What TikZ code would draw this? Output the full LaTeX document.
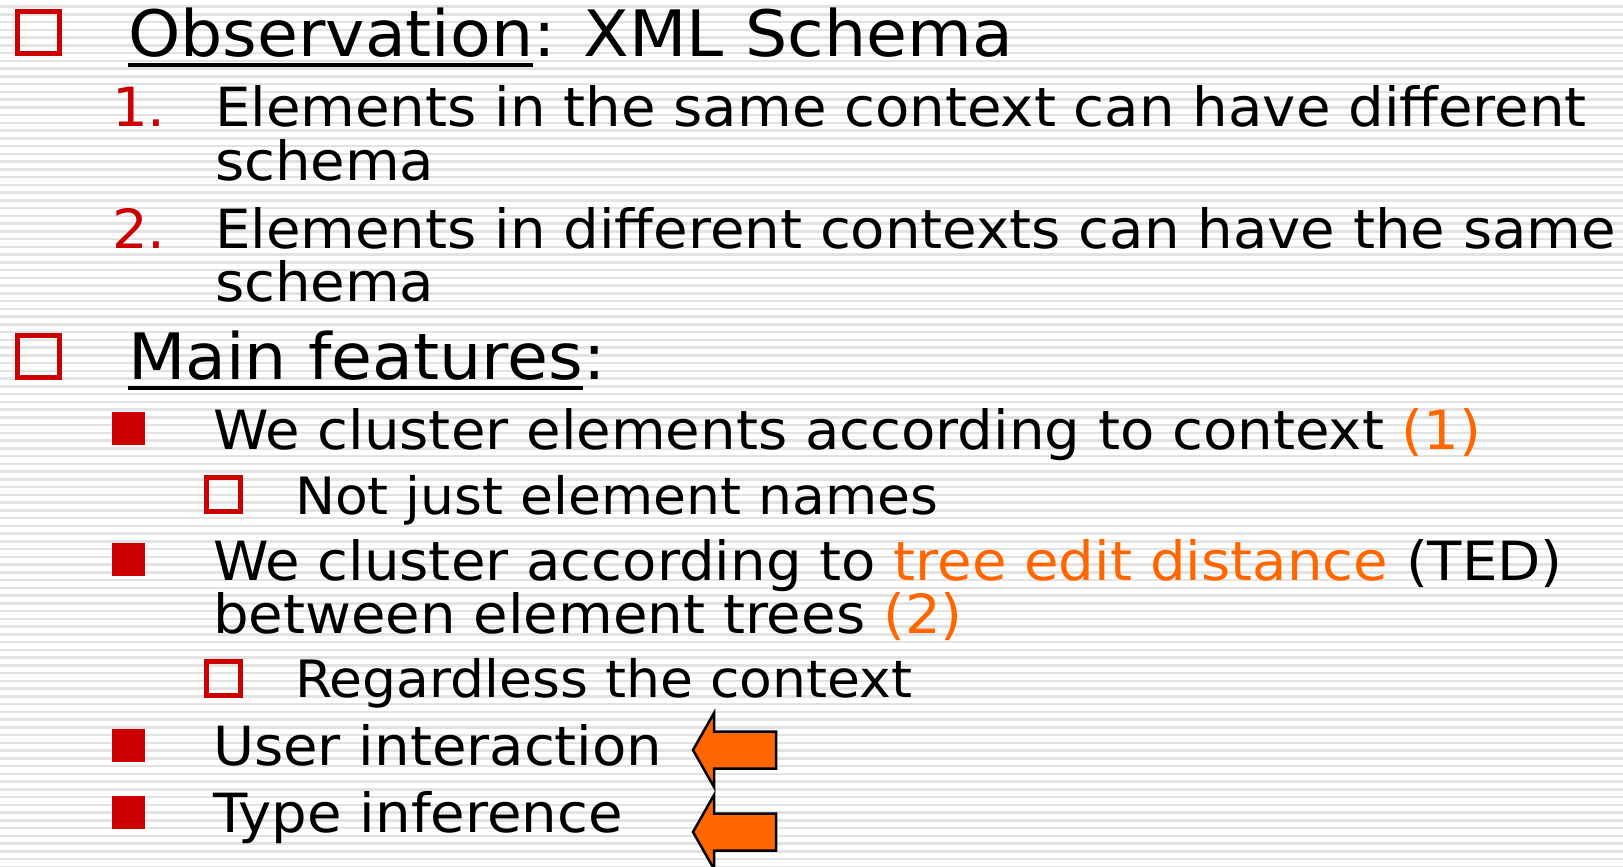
\documentclass[tikz,border=0pt]{standalone}
\usepackage{fontspec}
\setmainfont[FakeStretch=1.04]{DejaVu Sans}

\definecolor{bulletred}{HTML}{CC0000}
\definecolor{hiorange}{HTML}{FF6600}
\definecolor{stripegray}{HTML}{E2E2E2}

\tikzset{
  txt/.style={anchor=base west, inner sep=0pt, outer sep=0pt},
  levelone/.style={txt, font=\fontsize{64}{70}\selectfont},
  leveltwo/.style={txt, font=\fontsize{54}{60}\selectfont},
  levelthree/.style={txt, font=\fontsize{51.5}{56}\selectfont},
  hollowbox/.style={draw=bulletred, line width=5pt, inner sep=0pt},
  fullbox/.style={fill=bulletred, inner sep=0pt, minimum size=33pt},
  uline/.style={line width=3.5pt},
  blockarrow/.style={fill=hiorange, draw=black, line width=2.5pt}
}

\begin{document}
\begin{tikzpicture}[x=1pt, y=-1pt]
  \useasboundingbox (0,0) rectangle (1623,867);
  \clip (0,0) rectangle (1623,867);
  % striped background
  \fill[white] (0,0) rectangle (1623,867);
  \foreach \k in {0,...,112}
    \fill[stripegray] (0,{\k*7.75+5.3}) rectangle (1623,{\k*7.75+7.8});

  % first heading
  \node[hollowbox, minimum size=42pt] (bobs) at (38.5,33) {};
  \node[levelone] (obsword) at (128,57) {Observation};
  \node[levelone] (obsrest) at (obsword.base east) {: XML Schema};
  \draw[uline] ([yshift=-8pt]obsword.base west) -- ([yshift=-8pt]obsword.base east);

  \node[leveltwo, text=bulletred] (num1) at (112,126) {1.};
  \node[leveltwo] (diffa) at (215,126) {Elements in the same context can have different};
  \node[leveltwo] (diffb) at (215,180) {schema};
  \node[leveltwo, text=bulletred] (num2) at (112,248) {2.};
  \node[leveltwo] (samea) at (215,248) {Elements in different contexts can have the same};
  \node[leveltwo] (sameb) at (215,301) {schema};

  % second heading
  \node[hollowbox, minimum size=42pt] (bmain) at (38.5,356) {};
  \node[levelone] (mainword) at (128,379) {Main features};
  \node[levelone] (mainrest) at (mainword.base east) {:};
  \draw[uline] ([yshift=-9pt]mainword.base west) -- ([yshift=-9pt]mainword.base east);

  \node[fullbox] (bctx) at (128.5,428) {};
  \node[leveltwo] (ctx) at (213,449) {We cluster elements according to context \textcolor{hiorange}{(1)}};
  \node[hollowbox, minimum size=34pt] (bnames) at (223.5,494) {};
  \node[levelthree] (names) at (295,514) {Not just element names};

  \node[fullbox] (bted) at (128.5,559.5) {};
  \node[leveltwo] (teda) at (213,580) {We cluster according to \textcolor{hiorange}{tree edit distance} (TED)};
  \node[leveltwo] (tedb) at (213,633) {between element trees \textcolor{hiorange}{(2)}};
  \node[hollowbox, minimum size=34pt] (bregard) at (223.5,678.5) {};
  \node[levelthree] (regard) at (295,697) {Regardless the context};

  \node[fullbox] (buser) at (128.5,745.5) {};
  \node[leveltwo] (user) at (213,765) {User interaction};
  \node[fullbox] (btype) at (128.5,812.5) {};
  \node[leveltwo] (type) at (213,832) {Type inference};

  % arrows pointing at the last two items
  \coordinate (usertip) at (693,750);
  \coordinate (typetip) at (693,832);
  \foreach \tip in {usertip, typetip}
    \draw[blockarrow] (\tip) -- ++(21,-37) -- ++(0,18.5) -- ++(62,0) -- ++(0,37)
      -- ++(-62,0) -- ++(0,18.5) -- cycle;
\end{tikzpicture}
\end{document}
